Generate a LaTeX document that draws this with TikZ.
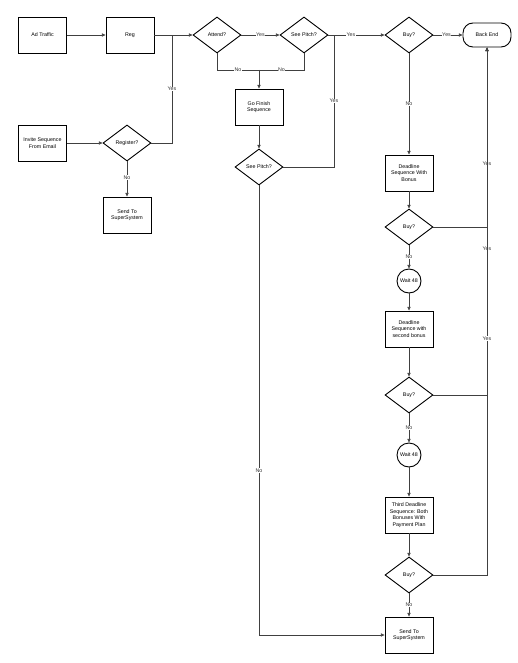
\documentclass[tikz,border=0pt]{standalone}
\usepackage{fontspec}
\setmainfont{Liberation Sans}
\usetikzlibrary{shapes.geometric,arrows.meta}
\begin{document}
\begin{tikzpicture}[x=1pt,y=-1pt,
  every node/.style={font=\fontsize{5.3}{6.5}\selectfont},
  box/.style={draw=black,line width=0.9pt,minimum width=48pt,minimum height=36pt,inner sep=1pt,align=center},
  dia/.style={draw=black,line width=0.9pt,shape=diamond,minimum width=48pt,minimum height=36pt,inner sep=0pt},
  waitc/.style={draw=black,line width=0.9pt,circle,minimum size=24pt,inner sep=0pt},
  endbox/.style={draw=black,line width=0.9pt,rounded corners=10pt,minimum width=48pt,minimum height=24pt},
  conn/.style={draw=black!75,line width=0.6pt},
  arr/.style={conn,-{Triangle[length=3.6pt,width=3.2pt]}},
  lbl/.style={fill=white,inner sep=0.6pt,text=black!80}
]
\useasboundingbox (0,0) rectangle (518,663);
% nodes
\node[box] (ad) at (42.5,35) {Ad Traffic};
\node[box] (reg) at (130,35) {Reg};
\node[dia,label=center:{Attend?}] (att) at (217,35) {};
\node[dia,label=center:{See Pitch?}] (sp) at (304,35) {};
\node[dia,label=center:{Buy?}] (buy1) at (409,35) {};
\node[endbox] (be) at (487,35) {Back End};
\node[box] (inv) at (42.5,143) {Invite Sequence\\From Email};
\node[dia,label=center:{Register?}] (regq) at (127,143) {};
\node[box] (send1) at (127,215) {Send To\\SuperSystem};
\node[box] (gf) at (259,107) {Go Finish\\Sequence};
\node[dia,label=center:{See Pitch?}] (sp2) at (259,167) {};
\node[box] (dl1) at (409,173) {Deadline\\Sequence With\\Bonus};
\node[dia,label=center:{Buy?}] (buy2) at (409,227) {};
\node[waitc] (w1) at (409,281) {Wait 48};
\node[box] (dl2) at (409,329) {Deadline\\Sequence with\\second bonus};
\node[dia,label=center:{Buy?}] (buy3) at (409,395) {};
\node[waitc] (w2) at (409,455) {Wait 48};
\node[box] (dl3) at (409,515) {Third Deadline\\Sequence: Both\\Bonuses With\\Payment Plan};
\node[dia,label=center:{Buy?}] (buy4) at (409,575) {};
\node[box] (send2) at (409,635) {Send To\\SuperSystem};
\coordinate (j1) at (172,35);
\coordinate (j2) at (334,35);
\coordinate (nj) at (259,70);
% connectors
\draw[arr] (ad) -- (reg);
\draw[arr] (reg) -- (att);
\draw[conn] (regq.east) -| node[lbl,pos=0.75]{Yes} (j1);
\draw[arr] (att) -- node[lbl,pos=0.5]{Yes} (sp);
\draw[conn] (att.south) |- node[lbl,pos=0.75]{No} (nj);
\draw[conn] (sp.south) |- node[lbl,pos=0.75]{No} (nj);
\draw[arr] (nj) -- (gf.north);
\draw[arr] (sp) -- node[lbl,pos=0.4]{Yes} (buy1);
\draw[arr] (buy1) -- node[lbl,pos=0.45]{Yes} (be);
\draw[arr] (gf) -- (sp2);
\draw[conn] (sp2.east) -| node[lbl,pos=0.75]{Yes} (j2);
\draw[arr] (sp2.south) |- node[lbl,pos=0.317]{No} (send2.west);
\draw[arr] (inv) -- (regq);
\draw[arr] (regq.south) -- node[lbl,pos=0.45]{No} (send1.north);
\draw[arr] (buy1.south) -- node[lbl,pos=0.5]{No} (dl1.north);
\draw[arr] (dl1) -- (buy2);
\draw[arr] (buy2.east) -| node[lbl,pos=0.675]{Yes} (be.south);
\draw[arr] (buy2.south) -- node[lbl,pos=0.5]{No} (w1.north);
\draw[arr] (w1) -- (dl2);
\draw[arr] (dl2) -- (buy3);
\draw[arr] (buy3.east) -| node[lbl,pos=0.711]{Yes} (be.south);
\draw[arr] (buy3.south) -- node[lbl,pos=0.5]{No} (w2.north);
\draw[arr] (w2) -- (dl3);
\draw[arr] (dl3) -- (buy4);
\draw[arr] (buy4.east) -| node[lbl,pos=0.724]{Yes} (be.south);
\draw[arr] (buy4.south) -- node[lbl,pos=0.5]{No} (send2.north);
\end{tikzpicture}
\end{document}
